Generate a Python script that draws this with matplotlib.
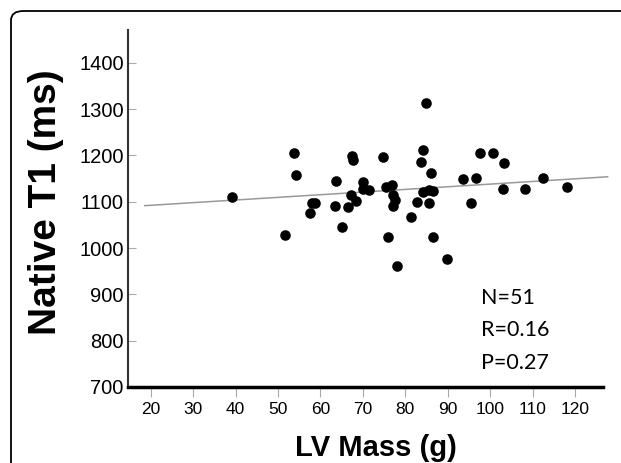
import matplotlib
matplotlib.use("Agg")
import matplotlib.pyplot as plt
from matplotlib.patches import FancyBboxPatch

# Data
lv_mass = [39.2, 53.7, 54.2, 51.7, 58.1, 58.7, 57.6, 63.7, 63.4, 65.0,
           66.5, 67.4, 67.6, 67.1, 68.5, 70.1, 70.0, 71.5, 74.7, 75.4,
           76.8, 76.0, 77.2, 77.6, 77.2, 78.1, 81.3, 82.7, 84.2, 83.6,
           84.2, 85.6, 86.6, 86.1, 85.6, 86.5, 89.8, 85.0, 93.5, 96.6,
           97.6, 100.6, 103.3, 95.6, 103.0, 108.1, 112.5, 118.0]
native_t1 = [1111, 1205, 1157, 1028, 1098, 1098, 1076, 1145, 1090, 1045,
             1088, 1198, 1190, 1114, 1102, 1142, 1128, 1126, 1197, 1133,
             1136, 1024, 1115, 1104, 1090, 961, 1068, 1100, 1211, 1185,
             1121, 1126, 1124, 1163, 1097, 1023, 976, 1313, 1150, 1152,
             1205, 1206, 1183, 1098, 1127, 1127, 1152, 1131]
fit_x = [18.6, 127.7]
fit_y = [1091.6, 1154.0]
x_ticks = [20, 30, 40, 50, 60, 70, 80, 90, 100, 110, 120]
y_ticks = [700, 800, 900, 1000, 1100, 1200, 1300, 1400]
stats_text = ["N=51", "R=0.16", "P=0.27"]

fig = plt.figure(figsize=(6.21, 4.63), dpi=100)
W, H = 621, 463

# rounded frame (only top and left edges visible)
frame = FancyBboxPatch((11 / W, -0.2), 1.2, 1.2 - 11 / H,
                       boxstyle="round,pad=0,rounding_size=0.02",
                       transform=fig.transFigure, fill=False,
                       edgecolor="black", linewidth=1.3, zorder=0)
fig.patches.append(frame)

ax = fig.add_axes([128 / W, 1 - 387 / H, (603 - 128) / W, (387 - 30) / H])
ax.set_xlim(14.65, 126.6)
ax.set_ylim(700, 1471)

ax.scatter(lv_mass, native_t1, s=58, color="black", zorder=3, linewidths=0)
ax.plot(fit_x, fit_y, color="#999999", lw=1.1, clip_on=False, zorder=2)

for s in ["top", "right"]:
    ax.spines[s].set_visible(False)
ax.spines["left"].set_color("#333333")
ax.spines["left"].set_linewidth(1.5)
ax.spines["bottom"].set_color("black")
ax.spines["bottom"].set_linewidth(2.5)

ax.set_xticks(x_ticks)
ax.set_xticklabels([str(v) for v in x_ticks], fontsize=12.5, family="Liberation Sans")
ax.set_yticks(y_ticks)
ax.set_yticklabels([str(v) for v in y_ticks], fontsize=14.5, family="Liberation Sans")
ax.tick_params(axis="x", direction="out", length=7, width=0.8, color="#aaaaaa", pad=4)
ax.tick_params(axis="y", direction="in", length=6, width=0.8, color="#aaaaaa", pad=3)

ax.set_xlabel("LV Mass (g)", fontsize=21, fontweight="bold", family="Liberation Sans")
ax.xaxis.set_label_coords((376 - 128) / 475, -(434 - 387) / 357)
ax.set_ylabel("Native T1 (ms)", fontsize=28, fontweight="bold", family="Liberation Sans")
ax.yaxis.set_label_coords(-(128 - 64) / 475, (387 - 202) / 357)

for i, t in enumerate(stats_text):
    fig.text(481 / W, 1 - (298 + 32.5 * i) / H, t, fontsize=15.5, family="Lato",
             va="center", ha="left")

fig.savefig("out.png", dpi=100)
